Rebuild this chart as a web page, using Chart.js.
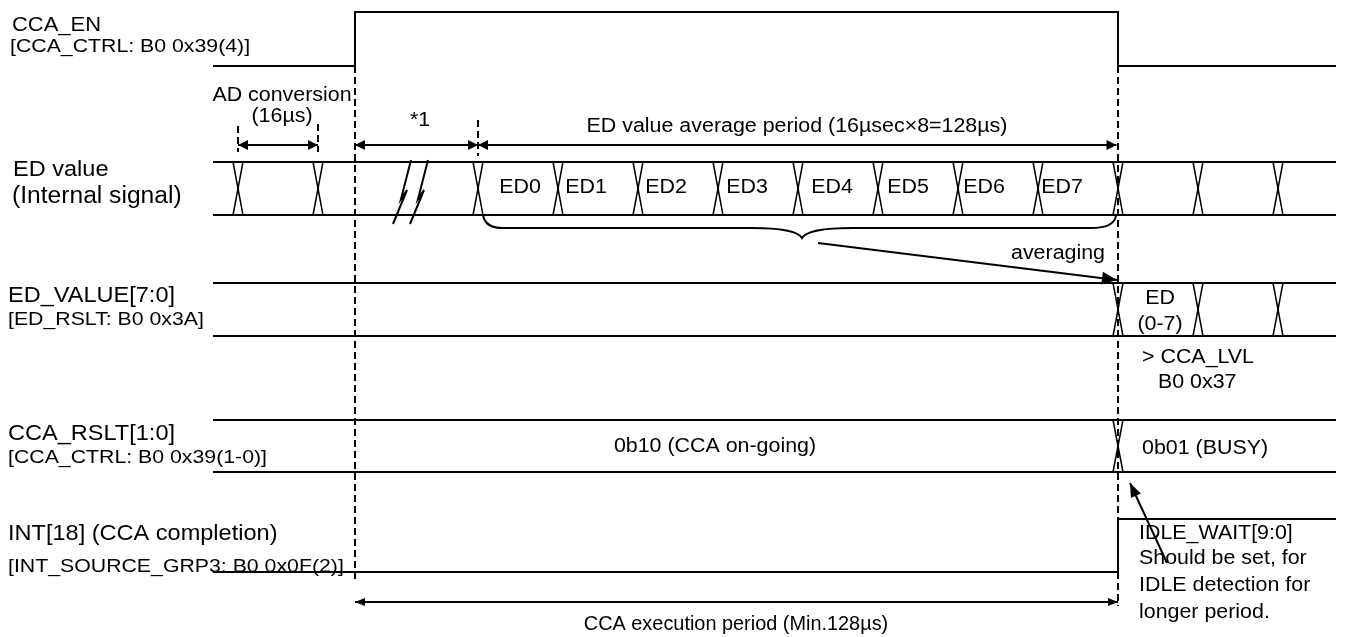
<!DOCTYPE html>
<html>
<head>
<meta charset="utf-8">
<script src="https://cdn.jsdelivr.net/npm/chart.js@4.4.0/dist/chart.umd.min.js"></script>
<style>
  html, body { margin: 0; padding: 0; background: #fff; }
</style>
</head>
<body>
<canvas id="timing" width="1346" height="637"></canvas>
<script>
// time axis in µs, 0 = start of the ED0 sample
const T_START = -53;
const T_END = 171.6;

const CCA_EN_EDGES = [-24.6, 128];
const CCA_EN_LEVELS = [0, 1, 0];

const ED_EDGES = [-48, -32, 0, 16, 32, 48, 64, 80, 96, 112, 128, 144, 160];
const ED_NAMES = ["ED0", "ED1", "ED2", "ED3", "ED4", "ED5", "ED6", "ED7"];
const ED_FIRST_SLOT = 2; // ED0 starts at ED_EDGES[2]

const ED_VALUE_EDGES = [128, 144, 160];
const CCA_RSLT_EDGES = [128];
const CCA_RSLT_VALUES = ["0b10 (CCA on-going)", "0b01 (BUSY)"];
const INT_EDGES = [128];
const INT_LEVELS = [0, 1];

// period arrows [from, to] in µs
const AD_SPAN = [-48, -32];
const WAIT_SPAN = [-24.6, 0];
const AVG_SPAN = [0, 128];
const EXEC_SPAN = [-24.6, 128];
const BREAK_AT = [-15.2, -11.8];

const SIGNAL_NAMES = ["CCA_EN", "ED value", "ED_VALUE[7:0]", "CCA_RSLT[1:0]", "INT[18] (CCA completion)"];
const SIGNAL_SUBS = ["[CCA_CTRL: B0 0x39(4)]", "(Internal signal)", "[ED_RSLT: B0 0x3A]", "[CCA_CTRL: B0 0x39(1-0)]", "[INT_SOURCE_GRP3: B0 0x0F(2)]"];

// ---- layout (px) ----
const INK = "#000";
const FONT = '"Liberation Sans", Arial, sans-serif';
const TEXT_STRETCH = 1.07;
const SUB_STRETCH = 1.12;
const X_HALF = 1; // half width of a bus crossing, µs

const ROW = {
  en:   { hi: 12,  lo: 66 },
  ed:   { hi: 162, lo: 215 },
  edv:  { hi: 283, lo: 336 },
  rslt: { hi: 420, lo: 472 },
  int:  { hi: 519, lo: 572 },
};
const DIM_Y = 145;
const EXEC_Y = 602;
const NAME_X = [12, 13, 8, 8, 8];
const NAME_Y = [25, 170, 296, 434, 534];
const NAME_SIZE = [20.5, 22, 22, 22, 22];
const SUB_X = [10, 12, 8, 8, 8];
const SUB_Y = [47, 197, 320, 458, 567];
const SUB_SIZE = [19, 23, 19, 19, 19];
const ED_LABEL_DX = [0.4, -2.4, -2.4, -2.2, -1.2, -2, -2.8, -3.2]; // µs from slot centre

const datasets = [];
function addLine(points, opts = {}) {
  datasets.push({
    data: points.map(([x, y]) => ({ x, y })),
    showLine: true,
    pointRadius: 0,
    borderColor: INK,
    borderWidth: opts.width || 2,
    borderDash: opts.dash || [],
    fill: false,
    tension: 0,
  });
}

function stepPoints(edges, levels, row) {
  const yOf = (l) => (l ? row.hi : row.lo);
  const pts = [[T_START, yOf(levels[0])]];
  edges.forEach((e, i) => {
    pts.push([e, yOf(levels[i])], [e, yOf(levels[i + 1])]);
  });
  pts.push([T_END, yOf(levels[levels.length - 1])]);
  return pts;
}

function addBus(edges, row) {
  addLine([[T_START, row.hi], [T_END, row.hi]]);
  addLine([[T_START, row.lo], [T_END, row.lo]]);
  edges.forEach((e) => {
    addLine([[e - X_HALF, row.hi], [e + X_HALF, row.lo]], { width: 1.5 });
    addLine([[e + X_HALF, row.hi], [e - X_HALF, row.lo]], { width: 1.5 });
  });
}

addLine(stepPoints(CCA_EN_EDGES, CCA_EN_LEVELS, ROW.en));
addBus(ED_EDGES, ROW.ed);
addBus(ED_VALUE_EDGES, ROW.edv);
addBus(CCA_RSLT_EDGES, ROW.rslt);
addLine(stepPoints(INT_EDGES, INT_LEVELS, ROW.int));

// dashed guides
const DASH = [7, 4];
addLine([[CCA_EN_EDGES[0], ROW.en.lo], [CCA_EN_EDGES[0], 582]], { dash: DASH });
addLine([[CCA_EN_EDGES[1], ROW.en.lo], [CCA_EN_EDGES[1], 606]], { dash: DASH });
addLine([[AD_SPAN[0], 126], [AD_SPAN[0], 152]], { dash: DASH });
addLine([[AD_SPAN[1], 124], [AD_SPAN[1], 152]], { dash: DASH });
addLine([[WAIT_SPAN[1], 120], [WAIT_SPAN[1], 156]], { dash: DASH });

// arrows: lines as datasets, heads drawn by plugin
const arrows = [
  { a: [AD_SPAN[0], DIM_Y], b: [AD_SPAN[1], DIM_Y], both: true, len: 10, half: 5 },
  { a: [WAIT_SPAN[0], DIM_Y], b: [WAIT_SPAN[1], DIM_Y], both: true, len: 10, half: 5 },
  { a: [AVG_SPAN[0], DIM_Y], b: [AVG_SPAN[1] - 0.3, DIM_Y], both: true, len: 10, half: 5 },
  { a: [EXEC_SPAN[0], EXEC_Y], b: [EXEC_SPAN[1], EXEC_Y], both: true, len: 10, half: 4 },
  { a: [68, 243], b: [127.8, 280], both: false, len: 15, half: 6.5 },
  { a: [137.8, 563], b: [130.4, 483], both: false, len: 14, half: 5.5 },
];
arrows.forEach((ar) => addLine([ar.a, ar.b], { width: 2 }));

function drawText(ctx, s, x, y, size, align, stretch) {
  ctx.save();
  ctx.font = size + "px " + FONT;
  ctx.fillStyle = INK;
  ctx.textBaseline = "middle";
  ctx.textAlign = align;
  ctx.translate(x, y);
  ctx.scale(stretch || TEXT_STRETCH, 1);
  ctx.fillText(s, 0, 0);
  ctx.restore();
}

function head(ctx, x0, y0, x1, y1, len, half) {
  const a = Math.atan2(y1 - y0, x1 - x0);
  const c = Math.cos(a), s = Math.sin(a);
  ctx.beginPath();
  ctx.moveTo(x1, y1);
  ctx.lineTo(x1 - len * c + half * s, y1 - len * s - half * c);
  ctx.lineTo(x1 - len * c - half * s, y1 - len * s + half * c);
  ctx.closePath();
  ctx.fill();
}

const decor = {
  id: "timingDecor",
  afterDatasetsDraw(chart) {
    const ctx = chart.ctx;
    const X = (t) => chart.scales.x.getPixelForValue(t);
    const Y = (v) => chart.scales.y.getPixelForValue(v);
    ctx.save();
    ctx.fillStyle = INK;
    ctx.strokeStyle = INK;

    // arrow heads
    arrows.forEach((ar) => {
      const ax = X(ar.a[0]), ay = Y(ar.a[1]), bx = X(ar.b[0]), by = Y(ar.b[1]);
      head(ctx, ax, ay, bx, by, ar.len, ar.half);
      if (ar.both) head(ctx, bx, by, ax, ay, ar.len, ar.half);
    });

    // break marks on the ED value bus
    ctx.lineWidth = 2;
    BREAK_AT.forEach((t) => {
      const cx = X(t);
      ctx.beginPath();
      ctx.moveTo(cx + 9, 160);
      ctx.lineTo(cx - 1, 199);
      ctx.lineTo(cx + 5, 190);
      ctx.lineTo(cx - 9, 224);
      ctx.stroke();
    });

    // brace under ED0..ED7
    const x0 = X(AVG_SPAN[0] + X_HALF), x1 = X(AVG_SPAN[1] - X_HALF * 0.4);
    const xm = X((AVG_SPAN[0] + AVG_SPAN[1]) / 2 + 0.8);
    const yb = Y(ROW.ed.lo), yl = yb + 13, yt = yb + 23;
    ctx.beginPath();
    ctx.moveTo(x0, yb);
    ctx.quadraticCurveTo(x0 + 2, yl, x0 + 20, yl);
    ctx.lineTo(xm - 50, yl);
    ctx.quadraticCurveTo(xm - 6, yl, xm, yt);
    ctx.quadraticCurveTo(xm + 6, yl, xm + 50, yl);
    ctx.lineTo(x1 - 25, yl);
    ctx.quadraticCurveTo(x1 - 1, yl, x1, yb);
    ctx.stroke();

    // signal names
    SIGNAL_NAMES.forEach((s, i) => drawText(ctx, s, NAME_X[i], NAME_Y[i], NAME_SIZE[i], "left"));
    SIGNAL_SUBS.forEach((s, i) =>
      drawText(ctx, s, SUB_X[i], SUB_Y[i], SUB_SIZE[i], "left", i === 1 ? TEXT_STRETCH : SUB_STRETCH));

    // bus contents
    ED_NAMES.forEach((s, i) => {
      const a = ED_EDGES[ED_FIRST_SLOT + i], b = ED_EDGES[ED_FIRST_SLOT + i + 1];
      drawText(ctx, s, X((a + b) / 2 + ED_LABEL_DX[i]), Y(187), 20, "center");
    });
    const edMid = X((ED_VALUE_EDGES[0] + ED_VALUE_EDGES[1]) / 2 + 0.4);
    drawText(ctx, "ED", edMid, Y(298), 20, "center");
    drawText(ctx, "(0-7)", edMid, Y(324), 20, "center");
    drawText(ctx, "> CCA_LVL", X(132.8), Y(357), 20, "left");
    drawText(ctx, "B0 0x37", X(136), Y(382), 20, "left");
    drawText(ctx, CCA_RSLT_VALUES[0], X(47.4), Y(446), 20, "center");
    drawText(ctx, CCA_RSLT_VALUES[1], X(132.8), Y(448), 20, "left");

    // period annotations
    drawText(ctx, "AD conversion", X(-39.2), Y(95), 20, "center");
    drawText(ctx, "(16µs)", X(-39.2), Y(116), 20, "center");
    drawText(ctx, "*1", X(-11.6), Y(120), 20, "center");
    drawText(ctx, "ED value average period (16µsec×8=128µs)", X(63.8), Y(126), 20, "center");
    drawText(ctx, "averaging", X(116), Y(253), 20, "center");
    drawText(ctx, "CCA execution period (Min.128µs)", X(51.6), Y(625), 19.5, "center", 1.02);
    ["IDLE_WAIT[9:0]", "Should be set, for", "IDLE detection for", "longer period."].forEach((s, i) => {
      drawText(ctx, s, X(132.2), Y([533, 558, 585, 612][i]), 20, "left");
    });
    ctx.restore();
  },
};

new Chart(document.getElementById("timing").getContext("2d"), {
  type: "scatter",
  data: { datasets },
  plugins: [decor],
  options: {
    responsive: false,
    animation: false,
    events: [],
    layout: { padding: 0 },
    scales: {
      x: { type: "linear", min: -95.6, max: 173.6, display: false },
      y: { type: "linear", min: 0, max: 637, reverse: true, display: false },
    },
    plugins: {
      legend: { display: false },
      tooltip: { enabled: false },
    },
  },
});
</script>
</body>
</html>
